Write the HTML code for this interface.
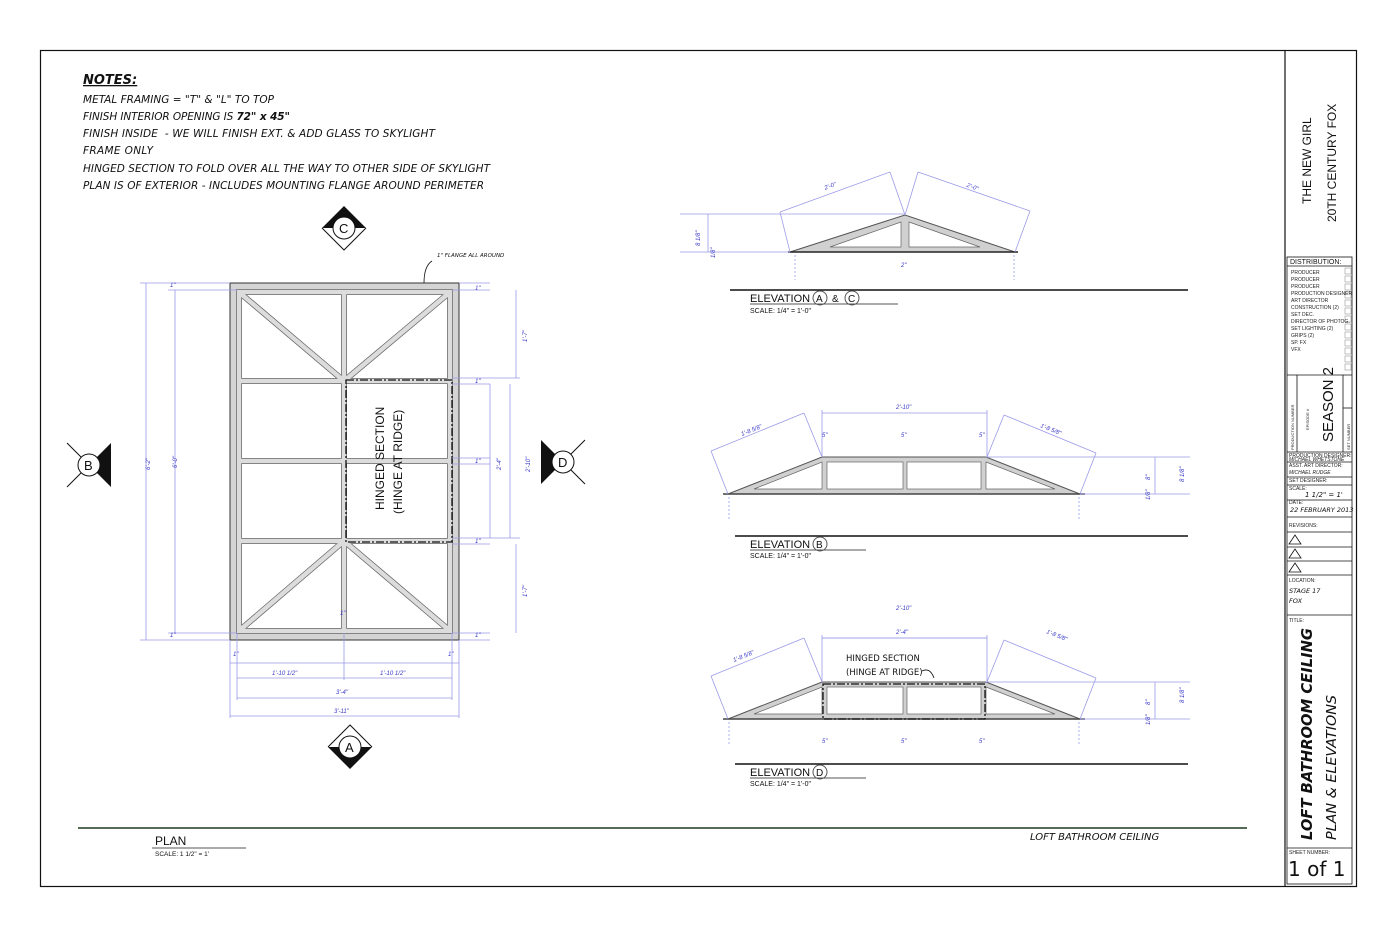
<!DOCTYPE html>
<html><head><meta charset="utf-8"><style>
html,body{margin:0;padding:0;background:#fff}
svg{display:block}
.n{font-family:"DejaVu Sans","Liberation Sans",sans-serif;font-style:italic;fill:#111}
.d{font-family:"Liberation Sans",sans-serif;font-size:6px;fill:#3a3ac8;font-style:italic}
.dl{stroke:#9a9ae8;stroke-width:0.8;fill:none}
.s{font-family:"Liberation Sans",sans-serif;fill:#111}
.tb{font-family:"Liberation Sans",sans-serif;font-size:5px;fill:#222}
</style></head><body>
<svg width="1400" height="933" viewBox="0 0 1400 933" xmlns="http://www.w3.org/2000/svg">
<rect x="40.5" y="50.5" width="1316" height="836" fill="none" stroke="#111" stroke-width="1.2"/>
<!-- title block -->
<line x1="1285" y1="50" x2="1285" y2="886" stroke="#111" stroke-width="1.2"/>
<g stroke="#111" stroke-width="0.8" fill="none">
<rect x="1287" y="257" width="65" height="627"/>
<line x1="1287" y1="266" x2="1352" y2="266"/>
<line x1="1287" y1="375" x2="1352" y2="375"/>
<line x1="1297" y1="375" x2="1297" y2="452"/>
<line x1="1343" y1="375" x2="1343" y2="452"/>
<line x1="1343" y1="408" x2="1352" y2="408"/>
<line x1="1287" y1="452" x2="1352" y2="452"/>
<line x1="1287" y1="462" x2="1352" y2="462"/>
<line x1="1287" y1="477" x2="1352" y2="477"/>
<line x1="1287" y1="485" x2="1352" y2="485"/>
<line x1="1287" y1="500" x2="1352" y2="500"/>
<line x1="1287" y1="517" x2="1352" y2="517"/>
<line x1="1287" y1="532" x2="1352" y2="532"/>
<line x1="1287" y1="547" x2="1352" y2="547"/>
<line x1="1287" y1="561" x2="1352" y2="561"/>
<line x1="1287" y1="575" x2="1352" y2="575"/>
<line x1="1287" y1="615" x2="1352" y2="615"/>
<line x1="1287" y1="848" x2="1352" y2="848"/>
</g>
<g stroke="#999" stroke-width="0.6" fill="none">
<rect x="1345" y="268" width="6" height="6"/><rect x="1345" y="276" width="6" height="6"/><rect x="1345" y="284" width="6" height="6"/><rect x="1345" y="292" width="6" height="6"/><rect x="1345" y="300" width="6" height="6"/><rect x="1345" y="308" width="6" height="6"/><rect x="1345" y="316" width="6" height="6"/><rect x="1345" y="324" width="6" height="6"/><rect x="1345" y="332" width="6" height="6"/><rect x="1345" y="340" width="6" height="6"/><rect x="1345" y="348" width="6" height="6"/><rect x="1345" y="356" width="6" height="6"/><rect x="1345" y="364" width="6" height="6"/>
</g>
<text class="s" font-size="12" transform="translate(1311,204) rotate(-90)">THE NEW GIRL</text>
<text class="s" font-size="12" transform="translate(1336,222) rotate(-90)">20TH CENTURY FOX</text>
<text class="s" font-size="7" x="1290" y="264">DISTRIBUTION:</text>
<g class="tb">
<text x="1291" y="274">PRODUCER</text><text x="1291" y="281">PRODUCER</text><text x="1291" y="288">PRODUCER</text><text x="1291" y="295">PRODUCTION DESIGNER</text><text x="1291" y="302">ART DIRECTOR</text><text x="1291" y="309">CONSTRUCTION (2)</text><text x="1291" y="316">SET DEC.</text><text x="1291" y="323">DIRECTOR OF PHOTOG.</text><text x="1291" y="330">SET LIGHTING (2)</text><text x="1291" y="337">GRIPS (2)</text><text x="1291" y="344">SP. FX</text><text x="1291" y="351">VFX</text>
<text transform="translate(1294,450) rotate(-90)" style="font-size:4px">PRODUCTION NUMBER</text>
<text transform="translate(1309,430) rotate(-90)" style="font-size:4px">EPISODE #</text>
<text transform="translate(1350,450) rotate(-90)" style="font-size:4px">SET NUMBER</text>
<text x="1289" y="457">PRODUCTION DESIGNER:</text><text x="1289" y="461" font-style="italic">MICHAEL WHETSTONE</text>
<text x="1289" y="467">ASST. ART DIRECTOR:</text><text x="1289" y="474" font-style="italic">MICHAEL RUDGE</text>
<text x="1289" y="482">SET DESIGNER:</text>
<text x="1289" y="490">SCALE:</text><text x="1289" y="504">DATE:</text><text x="1289" y="527">REVISIONS:</text>
<text x="1289" y="582">LOCATION:</text><text x="1289" y="622">TITLE:</text><text x="1289" y="854">SHEET NUMBER:</text>
</g>
<text class="s" font-size="15" transform="translate(1333,442) rotate(-90)">SEASON 2</text>
<text class="n" style="font-size:7px" x="1305" y="497">1 1/2" = 1'</text>
<text class="n" style="font-size:6.5px" x="1290" y="512">22 FEBRUARY 2013</text>
<g fill="none" stroke="#111" stroke-width="0.8"><path d="M1289 544 L1295 535 L1301 544 Z"/><path d="M1289 558 L1295 549 L1301 558 Z"/><path d="M1289 572 L1295 563 L1301 572 Z"/></g>
<text class="n" style="font-size:6.5px" x="1289" y="593">STAGE 17</text>
<text class="n" style="font-size:6.5px" x="1289" y="603">FOX</text>
<text class="n" style="font-size:15px;font-weight:bold" transform="translate(1312,840) rotate(-90)" textLength="212" lengthAdjust="spacingAndGlyphs">LOFT BATHROOM CEILING</text>
<text class="n" style="font-size:13px" transform="translate(1336,840) rotate(-90)" textLength="145" lengthAdjust="spacingAndGlyphs">PLAN &amp; ELEVATIONS</text>
<text class="n" style="font-size:20px;font-style:normal" x="1288" y="876">1 of 1</text>

<!-- notes -->
<text class="n" x="83" y="84" style="font-size:13px;font-weight:bold" text-decoration="underline">NOTES:</text>
<g class="n" style="font-size:10.5px">
<text x="83" y="103" textLength="191">METAL FRAMING = "T" &amp; "L" TO TOP</text>
<text x="83" y="120" textLength="207">FINISH INTERIOR OPENING IS <tspan font-weight="bold">72" x 45"</tspan></text>
<text x="83" y="137" textLength="352">FINISH INSIDE&#160; - WE WILL FINISH EXT. &amp; ADD GLASS TO SKYLIGHT</text>
<text x="83" y="154" textLength="70">FRAME ONLY</text>
<text x="83" y="172" textLength="407">HINGED SECTION TO FOLD OVER ALL THE WAY TO OTHER SIDE OF SKYLIGHT</text>
<text x="83" y="189" textLength="401">PLAN IS OF EXTERIOR - INCLUDES MOUNTING FLANGE AROUND PERIMETER</text>
</g>

<!-- plan -->
<rect x="230" y="283" width="229" height="357" fill="#d4d4d4" stroke="#333" stroke-width="1"/>
<rect x="237" y="290" width="215" height="343" fill="#fff" stroke="#111" stroke-width="1.5"/>
<g stroke="#666" stroke-width="6" stroke-linecap="butt">
<line x1="237" y1="292" x2="452" y2="292"/><line x1="237" y1="631" x2="452" y2="631"/>
<line x1="239" y1="290" x2="239" y2="633"/><line x1="450" y1="290" x2="450" y2="633"/>
<line x1="237" y1="381" x2="452" y2="381"/><line x1="237" y1="461" x2="452" y2="461"/><line x1="237" y1="541" x2="452" y2="541"/>
<line x1="344" y1="290" x2="344" y2="633"/>
<line x1="240" y1="293" x2="344" y2="381"/><line x1="449" y1="293" x2="344" y2="381"/>
<line x1="240" y1="630" x2="344" y2="541"/><line x1="449" y1="630" x2="344" y2="541"/>
</g>
<g stroke="#dcdcdc" stroke-width="4.5">
<line x1="237" y1="292" x2="452" y2="292"/><line x1="237" y1="631" x2="452" y2="631"/>
<line x1="239" y1="290" x2="239" y2="633"/><line x1="450" y1="290" x2="450" y2="633"/>
<line x1="237" y1="381" x2="452" y2="381"/><line x1="237" y1="461" x2="452" y2="461"/><line x1="237" y1="541" x2="452" y2="541"/>
<line x1="344" y1="290" x2="344" y2="633"/>
<line x1="240" y1="293" x2="344" y2="381"/><line x1="449" y1="293" x2="344" y2="381"/>
<line x1="240" y1="630" x2="344" y2="541"/><line x1="449" y1="630" x2="344" y2="541"/>
</g>
<path d="M346 380 H452 V542 H346 Z" fill="none" stroke="#111" stroke-width="1.3" stroke-dasharray="8,2,2,2"/>
<text class="s" font-size="12" transform="translate(384,510) rotate(-90)">HINGED SECTION</text>
<text class="s" font-size="12" transform="translate(402,514) rotate(-90)">(HINGE AT RIDGE)</text>
<text class="n" style="font-size:5.5px" x="437" y="257">1" FLANGE ALL AROUND</text>
<path d="M432 261 Q424 266 424 283" fill="none" stroke="#111" stroke-width="0.8"/>
<!-- plan dims -->
<g class="dl">
<line x1="140" y1="283" x2="230" y2="283"/><line x1="140" y1="640" x2="230" y2="640"/>
<line x1="146" y1="283" x2="146" y2="640"/><line x1="175" y1="290" x2="175" y2="633"/>
<line x1="168" y1="290" x2="237" y2="290"/><line x1="168" y1="633" x2="237" y2="633"/>
<line x1="459" y1="283" x2="490" y2="283"/><line x1="452" y1="290" x2="490" y2="290"/>
<line x1="452" y1="378" x2="520" y2="378"/><line x1="452" y1="384" x2="490" y2="384"/>
<line x1="452" y1="458" x2="490" y2="458"/><line x1="452" y1="464" x2="490" y2="464"/>
<line x1="452" y1="538" x2="520" y2="538"/><line x1="452" y1="544" x2="490" y2="544"/>
<line x1="452" y1="633" x2="490" y2="633"/><line x1="459" y1="640" x2="490" y2="640"/>
<line x1="516" y1="290" x2="516" y2="378"/><line x1="516" y1="544" x2="516" y2="633"/>
<line x1="510" y1="384" x2="510" y2="538"/><line x1="490" y1="384" x2="490" y2="538"/>
<line x1="230" y1="640" x2="230" y2="718"/><line x1="459" y1="640" x2="459" y2="718"/>
<line x1="237" y1="633" x2="237" y2="700"/><line x1="452" y1="633" x2="452" y2="700"/>
<line x1="344" y1="633" x2="344" y2="680"/>
<line x1="230" y1="663" x2="459" y2="663"/><line x1="237" y1="678" x2="452" y2="678"/>
<line x1="237" y1="698" x2="452" y2="698"/><line x1="230" y1="716" x2="459" y2="716"/>
</g>
<g class="d">
<text transform="translate(150,470) rotate(-90)">6'-2"</text>
<text transform="translate(177,468) rotate(-90)">6'-0"</text>
<text transform="translate(527,342) rotate(-90)">1'-7"</text>
<text transform="translate(527,597) rotate(-90)">1'-7"</text>
<text transform="translate(501,470) rotate(-90)">2'-4"</text>
<text transform="translate(530,472) rotate(-90)">2'-10"</text>
<text x="272" y="675">1'-10 1/2"</text><text x="380" y="675">1'-10 1/2"</text>
<text x="336" y="694">3'-4"</text><text x="334" y="713">3'-11"</text>
<text x="340" y="615">1"</text><text x="233" y="656">1"</text><text x="448" y="656">1"</text>
<text x="170" y="287">1"</text><text x="170" y="637">1"</text>
<text x="475" y="290">1"</text><text x="475" y="383">1"</text><text x="475" y="463">1"</text><text x="475" y="543">1"</text><text x="475" y="637">1"</text>
</g>
<!-- section markers -->
<g>
<path d="M322 228 L344 206 L366 228 Z" fill="#111"/><path d="M322 228 L344 250 L366 228" fill="none" stroke="#111"/>
<circle cx="344" cy="228" r="11" fill="#fff" stroke="#111"/><text class="s" x="339" y="233" font-size="13">C</text>
<path d="M328 747 L350 725 L372 747" fill="none" stroke="#111"/><path d="M328 747 L350 769 L372 747 Z" fill="#111"/>
<circle cx="350" cy="747" r="11" fill="#fff" stroke="#111"/><text class="s" x="345" y="752" font-size="13">A</text>
<path d="M89 465 L111 443 L111 487 Z" fill="#111"/><path d="M89 465 L67 443 M89 465 L67 487" stroke="#111"/>
<circle cx="89" cy="465" r="11" fill="#fff" stroke="#111"/><text class="s" x="84" y="470" font-size="13">B</text>
<path d="M563 462 L541 440 L541 484 Z" fill="#111"/><path d="M563 462 L585 440 M563 462 L585 484" stroke="#111"/>
<circle cx="563" cy="462" r="11" fill="#fff" stroke="#111"/><text class="s" x="558" y="467" font-size="13">D</text>
</g>

<!-- Elevation A & C -->
<polygon points="790,252 905,215 1015,252" fill="#d0d0d0" stroke="#555" stroke-width="1"/>
<polygon points="830,247 901,222 901,247" fill="#fff" stroke="#666" stroke-width="0.7"/>
<polygon points="909,222 980,247 909,247" fill="#fff" stroke="#666" stroke-width="0.7"/>
<line x1="788" y1="252" x2="1018" y2="252" stroke="#222" stroke-width="1.5"/>
<line x1="730" y1="290" x2="1188" y2="290" stroke="#111" stroke-width="1.5"/>
<g class="dl">
<line x1="680" y1="214" x2="905" y2="214"/><line x1="680" y1="252" x2="790" y2="252"/>
<line x1="708" y1="214" x2="708" y2="252"/>
<line x1="780" y1="212" x2="890" y2="172"/><line x1="780" y1="212" x2="790" y2="252"/><line x1="890" y1="172" x2="905" y2="215"/>
<line x1="918" y1="172" x2="1030" y2="211"/><line x1="918" y1="172" x2="905" y2="215"/><line x1="1030" y1="211" x2="1015" y2="252"/>
<line x1="795" y1="255" x2="795" y2="280" stroke-dasharray="2,2"/><line x1="1014" y1="255" x2="1014" y2="280" stroke-dasharray="2,2"/>
</g>
<g class="d"><text x="825" y="188" transform="rotate(-20 830 188)">2'-0"</text><text x="966" y="188" transform="rotate(20 970 188)">2'-0"</text>
<text transform="translate(700,246) rotate(-90)">8 1/8"</text><text transform="translate(715,258) rotate(-90)">1/8"</text><text x="901" y="267">2"</text></g>
<text class="s" x="750" y="302" font-size="11">ELEVATION</text>
<circle cx="820" cy="298" r="7" fill="none" stroke="#555"/><text class="s" x="816" y="302" font-size="10">A</text>
<text class="s" x="832" y="302" font-size="10">&amp;</text>
<circle cx="852" cy="298" r="7" fill="none" stroke="#555"/><text class="s" x="848" y="302" font-size="10">C</text>
<line x1="750" y1="304" x2="898" y2="304" stroke="#555"/>
<text class="s" x="750" y="313" font-size="7" fill="#444">SCALE: 1/4" = 1'-0"</text>

<!-- Elevation B -->
<g id="tB">
<polygon points="728,494 822,457 986,457 1080,494" fill="#d0d0d0" stroke="#555" stroke-width="1"/>
<polygon points="754,489 822,462 822,489" fill="#fff" stroke="#666" stroke-width="0.7"/>
<rect x="827" y="462" width="76" height="27" fill="#fff" stroke="#666" stroke-width="0.7"/>
<rect x="907" y="462" width="74" height="27" fill="#fff" stroke="#666" stroke-width="0.7"/>
<polygon points="986,462 1055,489 986,489" fill="#fff" stroke="#666" stroke-width="0.7"/>
<line x1="723" y1="494" x2="1085" y2="494" stroke="#444" stroke-width="1.5"/>
<g class="dl">
<line x1="822" y1="413" x2="987" y2="413"/><line x1="822" y1="410" x2="822" y2="457"/><line x1="987" y1="410" x2="987" y2="457"/>
<line x1="711" y1="451" x2="804" y2="413"/><line x1="711" y1="451" x2="728" y2="494"/><line x1="804" y1="413" x2="822" y2="457"/>
<line x1="1004" y1="415" x2="1096" y2="453"/><line x1="1004" y1="415" x2="987" y2="457"/><line x1="1096" y1="453" x2="1080" y2="494"/>
<line x1="986" y1="457" x2="1190" y2="457"/><line x1="1080" y1="494" x2="1190" y2="494"/><line x1="1155" y1="457" x2="1155" y2="494"/>
<line x1="729" y1="497" x2="729" y2="520" stroke-dasharray="2,2"/><line x1="1079" y1="497" x2="1079" y2="520" stroke-dasharray="2,2"/>
</g>
</g>
<g class="d"><text x="896" y="409">2'-10"</text><text x="822" y="437">5"</text><text x="901" y="437">5"</text><text x="979" y="437">5"</text>
<text transform="translate(742,436) rotate(-22)">1'-8 5/8"</text><text transform="translate(1040,427) rotate(22)">1'-8 5/8"</text>
<text transform="translate(1150,480) rotate(-90)">8"</text><text transform="translate(1150,500) rotate(-90)">1/8"</text><text transform="translate(1184,482) rotate(-90)">8 1/8"</text></g>
<line x1="735" y1="536" x2="1188" y2="536" stroke="#111" stroke-width="1.5"/>
<text class="s" x="750" y="548" font-size="11">ELEVATION</text>
<circle cx="820" cy="544" r="7" fill="none" stroke="#555"/><text class="s" x="816" y="548" font-size="10">B</text>
<line x1="750" y1="550" x2="866" y2="550" stroke="#555"/>
<text class="s" x="750" y="558" font-size="7" fill="#444">SCALE: 1/4" = 1'-0"</text>

<!-- Elevation D -->
<use href="#tB" transform="translate(0,225)"/>
<line x1="822" y1="638" x2="987" y2="638" class="dl"/>
<path d="M823 684 H985 V719 H823 Z" fill="none" stroke="#111" stroke-width="1.3" stroke-dasharray="8,2,2,2"/>
<g class="d"><text x="896" y="634">2'-4"</text><text x="896" y="610">2'-10"</text><text x="822" y="743">5"</text><text x="901" y="743">5"</text><text x="979" y="743">5"</text>
<text transform="translate(734,662) rotate(-22)">1'-8 5/8"</text><text transform="translate(1046,633) rotate(22)">1'-8 5/8"</text>
<text transform="translate(1150,705) rotate(-90)">8"</text><text transform="translate(1150,725) rotate(-90)">1/8"</text><text transform="translate(1184,703) rotate(-90)">8 1/8"</text></g>
<text class="n" x="846" y="661" style="font-size:8.5px;font-style:normal">HINGED SECTION</text>
<text class="n" x="846" y="675" style="font-size:8.5px;font-style:normal">(HINGE AT RIDGE)</text>
<path d="M922 671 Q930 667 934 678" fill="none" stroke="#111" stroke-width="0.8"/>
<line x1="735" y1="764" x2="1188" y2="764" stroke="#111" stroke-width="1.5"/>
<text class="s" x="750" y="776" font-size="11">ELEVATION</text>
<circle cx="820" cy="772" r="7" fill="none" stroke="#555"/><text class="s" x="816" y="776" font-size="10">D</text>
<line x1="750" y1="778" x2="866" y2="778" stroke="#555"/>
<text class="s" x="750" y="786" font-size="7" fill="#444">SCALE: 1/4" = 1'-0"</text>

<!-- bottom -->
<line x1="78" y1="828" x2="1247" y2="828" stroke="#1e3a1e" stroke-width="1.5"/>
<text class="s" x="155" y="845" font-size="12" fill="#333">PLAN</text>
<line x1="152" y1="848" x2="246" y2="848" stroke="#555"/>
<text class="s" x="155" y="856" font-size="6.5" fill="#444">SCALE: 1 1/2" = 1'</text>
<text class="n" x="1030" y="840" style="font-size:10px">LOFT BATHROOM CEILING</text>
</svg>
</body></html>
